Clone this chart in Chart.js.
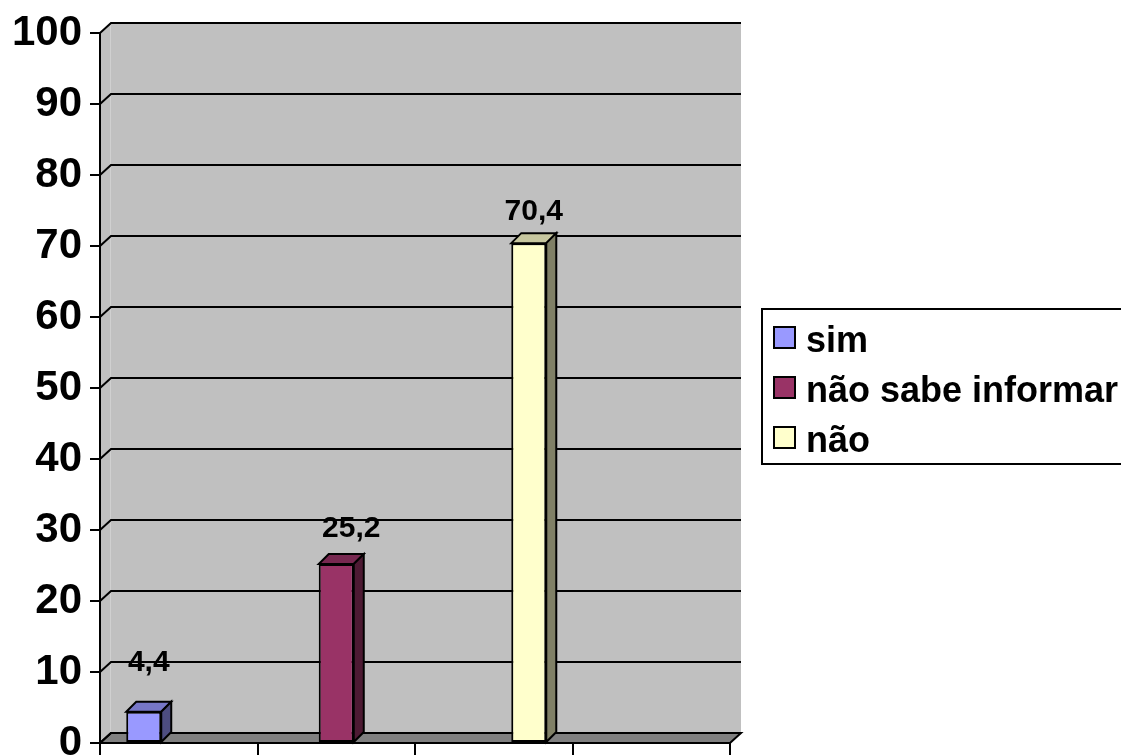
<!DOCTYPE html>
<html lang="pt">
<head>
    <meta charset="UTF-8">
    <title>Resposta</title>
    <script src="https://cdn.jsdelivr.net/npm/chart.js"></script>
    <style>
        body {
            margin: 0;
            background: #ffffff;
        }
        #wrap {
            width: 1121px;
            height: 755px;
        }
    </style>
</head>
<body>

<div id="wrap">
    <canvas id="chart" width="1121" height="755"></canvas>
</div>

<script>
    // Data
    const categories = ['', '', '', ''];
    const seriesNames = ['sim', 'não sabe informar', 'não'];
    const simValues = [4.4, null, null, null];
    const naoSabeValues = [null, 25.2, null, null];
    const naoValues = [null, null, 70.4, null];
    const yMin = 0;
    const yMax = 100;
    const yStep = 10;

    const colors = ['#9999ff', '#993366', '#ffffcc'];
    const FONT = "'Liberation Sans', Arial, sans-serif";
    const DX = 11, DY = 10;       // depth of the back wall
    const BDX = 10, BDY = 10;     // depth of the bars

    function shade(hex, f) {
        const n = parseInt(hex.slice(1), 16);
        const r = Math.round(((n >> 16) & 255) * f);
        const g = Math.round(((n >> 8) & 255) * f);
        const b = Math.round((n & 255) * f);
        return `rgb(${r},${g},${b})`;
    }

    function poly(ctx, pts, fill, stroke, lw) {
        ctx.beginPath();
        ctx.moveTo(pts[0][0], pts[0][1]);
        for (let i = 1; i < pts.length; i++) ctx.lineTo(pts[i][0], pts[i][1]);
        ctx.closePath();
        if (fill) { ctx.fillStyle = fill; ctx.fill(); }
        if (stroke) { ctx.strokeStyle = stroke; ctx.lineWidth = lw || 2; ctx.stroke(); }
    }

    // walls, floor and gridlines of the 3D box
    const wallPlugin = {
        id: 'walls',
        beforeDraw(chart) {
            const ctx = chart.ctx;
            const a = chart.chartArea;
            const y = chart.scales.y;
            ctx.save();
            // left side wall
            poly(ctx, [[a.left, a.top], [a.left + DX, a.top - DY], [a.left + DX, a.bottom - DY], [a.left, a.bottom]], '#c0c0c0');
            // back wall
            poly(ctx, [[a.left + DX, a.top - DY], [a.right + DX, a.top - DY], [a.right + DX, a.bottom - DY], [a.left + DX, a.bottom - DY]], '#c0c0c0');
            ctx.strokeStyle = '#d0d0d0';
            ctx.lineWidth = 1;
            ctx.beginPath();
            ctx.moveTo(a.left + DX - 0.5, a.top - DY);
            ctx.lineTo(a.left + DX - 0.5, a.bottom - DY);
            ctx.stroke();
            // floor
            poly(ctx, [[a.left, a.bottom], [a.right, a.bottom], [a.right + DX, a.bottom - DY], [a.left + DX, a.bottom - DY]], '#808080', '#000', 2);
            // gridlines
            ctx.strokeStyle = '#000';
            ctx.lineWidth = 2;
            for (let v = yMin; v <= yMax; v += yStep) {
                const py = y.getPixelForValue(v);
                ctx.beginPath();
                ctx.moveTo(a.left, py);
                ctx.lineTo(a.left + DX, py - DY);
                ctx.lineTo(a.right + DX, py - DY);
                ctx.stroke();
            }
            ctx.restore();
        }
    };

    // top and side faces of the bars, plus value labels
    const barPlugin = {
        id: 'bars3d',
        afterDatasetsDraw(chart, args, opts) {
            const ctx = chart.ctx;
            ctx.save();
            chart.data.datasets.forEach((ds, di) => {
                const meta = chart.getDatasetMeta(di);
                meta.data.forEach((bar, i) => {
                    const v = ds.data[i];
                    if (v === null || v === undefined) return;
                    const l = bar.x - bar.width / 2;
                    const r = bar.x + bar.width / 2;
                    const t = bar.y;
                    const b = bar.base;
                    poly(ctx, [[l, t], [r, t], [r + BDX, t - BDY], [l + BDX, t - BDY]], shade(colors[di], 0.78), '#000', 2);
                    poly(ctx, [[r, t], [r + BDX, t - BDY], [r + BDX, b - BDY], [r, b]], shade(colors[di], 0.5), '#000', 2);
                    const sh = opts.shift[di];
                    ctx.fillStyle = '#000';
                    ctx.font = 'bold 30px ' + FONT;
                    ctx.textAlign = 'center';
                    ctx.textBaseline = 'alphabetic';
                    ctx.fillText(String(v).replace('.', ','), bar.x + sh[0], t - sh[1]);
                });
            });
            ctx.restore();
        }
    };

    // boxed legend on the right
    const legendPlugin = {
        id: 'boxLegend',
        afterDraw(chart) {
            const ctx = chart.ctx;
            ctx.save();
            ctx.strokeStyle = '#000';
            ctx.lineWidth = 2;
            ctx.strokeRect(762, 309, 400, 155);
            ctx.font = 'bold 36px ' + FONT;
            ctx.textAlign = 'left';
            ctx.textBaseline = 'alphabetic';
            chart.data.datasets.forEach((ds, i) => {
                const top = 327 + i * 50;
                ctx.fillStyle = ds.backgroundColor;
                ctx.fillRect(774, top, 21, 21);
                ctx.strokeRect(774, top, 21, 21);
                ctx.fillStyle = '#000';
                ctx.fillText(ds.label, 806, top + 25);
            });
            ctx.restore();
        }
    };

    const ctx = document.getElementById('chart').getContext('2d');
    new Chart(ctx, {
        type: 'bar',
        data: {
            labels: categories,
            datasets: [
                { label: seriesNames[0], data: simValues, backgroundColor: colors[0] },
                { label: seriesNames[1], data: naoSabeValues, backgroundColor: colors[1] },
                { label: seriesNames[2], data: naoValues, backgroundColor: colors[2] }
            ]
        },
        options: {
            responsive: false,
            animation: false,
            layout: { padding: { top: 33, right: 391, bottom: 0, left: 0 } },
            datasets: {
                bar: {
                    borderColor: '#000',
                    borderWidth: 2,
                    borderSkipped: false,
                    categoryPercentage: 0.667,
                    barPercentage: 1.0
                }
            },
            plugins: {
                legend: { display: false },
                tooltip: { enabled: false },
                bars3d: { shift: [[5, 41], [15, 27], [5, 23]] }
            },
            scales: {
                x: {
                    grid: { drawOnChartArea: false, offset: true, color: '#000', lineWidth: 2, tickLength: 12 },
                    border: { display: true, color: '#000', width: 2 },
                    ticks: { display: false },
                    afterFit(s) { s.height = 12; s.paddingLeft = 0; s.paddingRight = 0; }
                },
                y: {
                    min: yMin,
                    max: yMax,
                    ticks: {
                        stepSize: yStep,
                        color: '#000',
                        padding: 8,
                        font: { family: FONT, size: 42, weight: 'bold' }
                    },
                    grid: { drawOnChartArea: false, color: '#000', lineWidth: 2, tickLength: 10 },
                    border: { display: true, color: '#000', width: 2 },
                    afterFit(s) { s.width = 100; s.paddingTop = 0; s.paddingBottom = 0; }
                }
            }
        },
        plugins: [wallPlugin, barPlugin, legendPlugin]
    });
</script>

</body>
</html>
